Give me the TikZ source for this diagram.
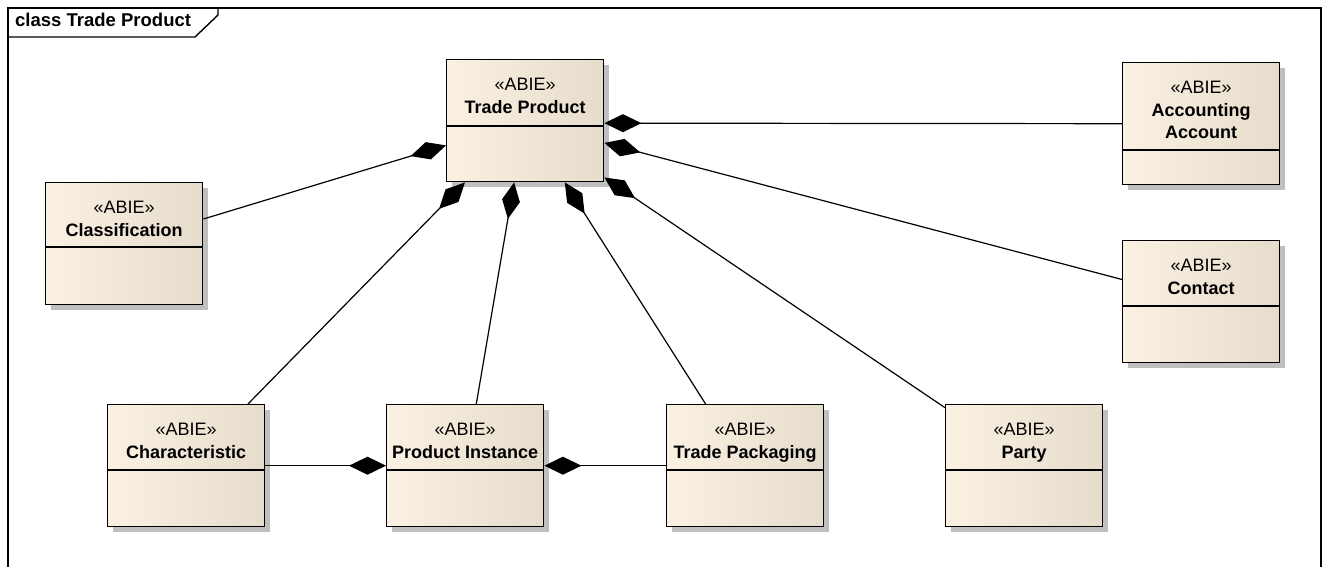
\documentclass[tikz,border=0pt]{standalone}
\usepackage{fontspec}
\setmainfont{Liberation Sans}
\usetikzlibrary{arrows.meta,shadows,calc}
\definecolor{abielight}{HTML}{FBF1E2}
\definecolor{abiedark}{HTML}{E6DCCC}

\begin{document}
\begin{tikzpicture}
  [x=1pt,y=-1pt]
      \tikzstyle{abie_style} = [draw=black, line width=1.4, left color=abielight, right color=abiedark, drop shadow={shadow xshift=5pt, shadow yshift=-5pt, fill=black!25, opacity=1}, minimum width=157pt, minimum height=122pt, anchor=north west, inner sep=0]
      \tikzstyle{name_style} = [font=\fontsize{18}{22.5}\selectfont, align=center, inner sep=0, anchor=north]
      \tikzstyle{edge_style} = [draw=black, line width=1.2, -{Diamond[length=37pt, width=18pt]}]
      \tikzstyle{div_style} = [draw=black, line width=1.4]
  \useasboundingbox (0,0) rectangle (1328,567);
  \draw[line width=1.4] (8,568) -- (8,8) -- (1321,8) -- (1321,568);
  \draw[line width=1.4] (8,37) -- (195,37) -- (218,15) -- (218,8);
  \node[anchor=base west, inner sep=0, font=\fontsize{18.5}{22}\selectfont\bfseries] (lbl) at (15,27) {class Trade Product};
  \node[abie_style] (tp) at (446,59) {};
  \node[abie_style] (cls) at (45,182) {};
  \node[abie_style] (acc) at (1122,62) {};
  \node[abie_style] (con) at (1122,240) {};
  \node[abie_style] (ch) at (107,404) {};
  \node[abie_style] (pi) at (386,404) {};
  \node[abie_style] (pk) at (666,404) {};
  \node[abie_style] (pa) at (945,404) {};
  \node[name_style] (tp_t) at ($(tp.north)+(0,19)$) {«ABIE»\\\textbf{Trade Product}};
  \node[name_style] (cls_t) at ($(cls.north)+(0,19)$) {«ABIE»\\\textbf{Classification}};
  \node[name_style] (acc_t) at ($(acc.north)+(0,19)$) {«ABIE»\\\textbf{Accounting}\\\textbf{Account}};
  \node[name_style] (con_t) at ($(con.north)+(0,19)$) {«ABIE»\\\textbf{Contact}};
  \node[name_style] (ch_t) at ($(ch.north)+(0,19)$) {«ABIE»\\\textbf{Characteristic}};
  \node[name_style] (pi_t) at ($(pi.north)+(0,19)$) {«ABIE»\\\textbf{Product Instance}};
  \node[name_style] (pk_t) at ($(pk.north)+(0,19)$) {«ABIE»\\\textbf{Trade Packaging}};
  \node[name_style] (pa_t) at ($(pa.north)+(0,19)$) {«ABIE»\\\textbf{Party}};
  \draw[div_style] ($(tp.north west)+(0,67)$) -- ($(tp.north east)+(0,67)$);
  \draw[div_style] ($(cls.north west)+(0,65)$) -- ($(cls.north east)+(0,65)$);
  \draw[div_style] ($(acc.north west)+(0,88)$) -- ($(acc.north east)+(0,88)$);
  \draw[div_style] ($(con.north west)+(0,66)$) -- ($(con.north east)+(0,66)$);
  \draw[div_style] ($(ch.north west)+(0,66)$) -- ($(ch.north east)+(0,66)$);
  \draw[div_style] ($(pi.north west)+(0,66)$) -- ($(pi.north east)+(0,66)$);
  \draw[div_style] ($(pk.north west)+(0,66)$) -- ($(pk.north east)+(0,66)$);
  \draw[div_style] ($(pa.north west)+(0,66)$) -- ($(pa.north east)+(0,66)$);
  \draw[edge_style] (acc.west) -- ($(tp.north east)!0.52!(tp.south east)$);
  \draw[edge_style] ($(con.north west)!0.32!(con.south west)$) -- ($(tp.north east)!0.68!(tp.south east)$);
  \draw[edge_style] ($(pa.north west)!0.03!(pa.south west)$) -- ($(tp.north east)!0.96!(tp.south east)$);
  \draw[edge_style] ($(cls.north east)!0.30!(cls.south east)$) -- ($(tp.north west)!0.70!(tp.south west)$);
  \draw[edge_style] ($(ch.north west)!0.89!(ch.north east)$) -- ($(tp.south west)!0.12!(tp.south east)$);
  \draw[edge_style] ($(pi.north west)!0.57!(pi.north east)$) -- ($(tp.south west)!0.43!(tp.south east)$);
  \draw[edge_style] ($(pk.north west)!0.25!(pk.north east)$) -- ($(tp.south west)!0.75!(tp.south east)$);
  \draw[edge_style] (ch.east) -- (pi.west);
  \draw[edge_style] (pk.west) -- (pi.east);
\end{tikzpicture}
\end{document}
